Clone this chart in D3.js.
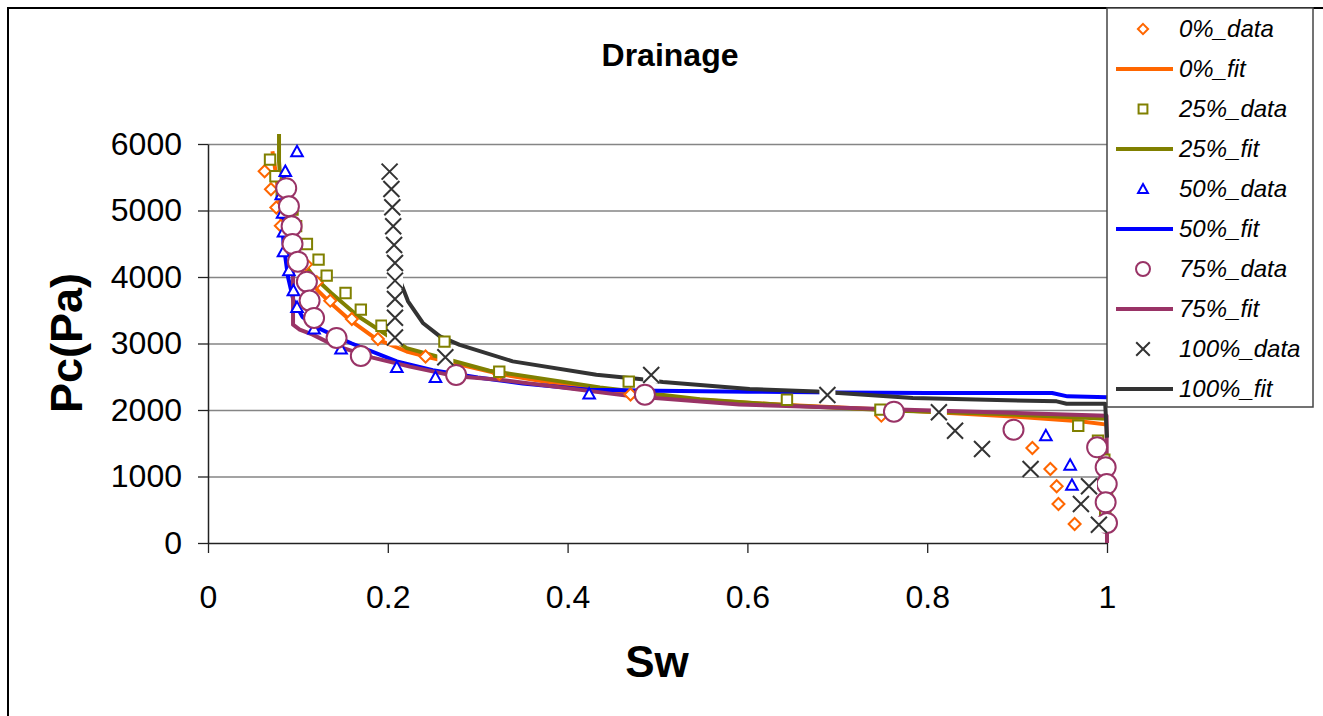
<!DOCTYPE html>
<html>
<head>
<meta charset="utf-8">
<script src="https://cdn.jsdelivr.net/npm/d3@7"></script>
<style>
  body { margin: 0; background: #fff; }
  svg { display: block; font-family: "Liberation Sans", Arial, sans-serif; }
</style>
</head>
<body>
<svg id="chart"></svg>
<script>
// Measured points (Sw, Pc in Pa)
const data0 = [[0.063,5590],[0.070,5320],[0.076,5045],[0.081,4770],[0.095,4490],[0.109,4190],[0.121,3921],[0.136,3644],[0.160,3369],[0.189,3068],[0.242,2805],[0.324,2542],[0.470,2233],[0.749,1915],[0.917,1429],[0.937,1113],[0.944,853],[0.946,587],[0.964,286]];
const data25 = [[0.069,5765],[0.075,5515],[0.082,5265],[0.094,5015],[0.098,4765],[0.110,4497],[0.123,4261],[0.132,4020],[0.153,3760],[0.170,3509],[0.193,3268],[0.263,3028],[0.324,2576],[0.468,2426],[0.644,2155],[0.748,2005],[0.968,1764],[0.990,1539],[0.997,1253],[0.999,1000],[1.0,750],[0.998,500]];
const data50 = [[0.099,5885],[0.086,5590],[0.0815,5240],[0.083,4960],[0.084,4680],[0.084,4381],[0.090,4095],[0.095,3795],[0.099,3545],[0.118,3219],[0.148,2918],[0.210,2642],[0.253,2492],[0.424,2241],[0.932,1614],[0.959,1173],[0.961,872]];
const data75 = [[0.087,5335],[0.090,5064],[0.093,4763],[0.094,4497],[0.100,4231],[0.110,3930],[0.113,3645],[0.118,3384],[0.143,3083],[0.170,2812],[0.276,2527],[0.486,2230],[0.763,1975],[0.896,1704],[0.989,1439],[0.9985,1139],[0.9997,887],[0.9985,612],[1.0,301]];
const data100 = [[0.202,5585],[0.204,5324],[0.205,5049],[0.206,4763],[0.207,4482],[0.208,4211],[0.208,3945],[0.208,3670],[0.208,3388],[0.208,3091],[0.264,2793],[0.493,2527],[0.689,2226],[0.813,1966],[0.831,1689],[0.861,1414],[0.915,1113],[0.980,853],[0.971,587],[0.991,275]];

// Fitted curves
const fit0 = [[0.0717,5890],[0.075,5600],[0.0785,5240],[0.082,4830],[0.088,4490],[0.097,4250],[0.108,4030],[0.122,3800],[0.137,3600],[0.158,3350],[0.187,3070],[0.221,2880],[0.247,2790],[0.325,2540],[0.436,2290],[0.55,2150],[0.65,2070],[0.78,1990],[0.9,1900],[0.97,1830],[1.0,1780]];
const fit25 = [[0.079,6150],[0.079,5740],[0.0817,5240],[0.0842,4940],[0.091,4560],[0.104,4250],[0.118,4000],[0.137,3760],[0.167,3410],[0.193,3180],[0.221,2930],[0.313,2590],[0.436,2340],[0.547,2160],[0.658,2060],[0.769,1990],[0.881,1940],[1.0,1870]];
const fit50 = [[0.085,5600],[0.082,5000],[0.084,4500],[0.089,4000],[0.095,3650],[0.105,3400],[0.12,3250],[0.14,3120],[0.16,3000],[0.21,2730],[0.25,2600],[0.3,2490],[0.35,2400],[0.424,2305],[0.5,2290],[0.6,2275],[0.7,2262],[0.8,2256],[0.939,2256],[0.956,2205],[1.0,2190]];
const fit75 = [[0.088,5400],[0.091,4800],[0.093,4300],[0.0946,4010],[0.0946,3283],[0.102,3210],[0.1165,3133],[0.1387,2983],[0.183,2788],[0.2245,2652],[0.276,2506],[0.3245,2456],[0.472,2205],[0.591,2081],[0.777,2005],[0.9995,1915],[1.0,0]];
const fit100 = [[0.212,4000],[0.2225,3634],[0.239,3309],[0.258,3107],[0.28,2980],[0.339,2731],[0.432,2531],[0.48,2467],[0.506,2421],[0.6025,2316],[0.677,2280],[0.784,2181],[0.944,2130],[0.955,2095],[0.998,2095],[1.0,1584]];

const seriesNames = ["0%", "25%", "50%", "75%", "100%"];
const xTicks = [0, 0.2, 0.4, 0.6, 0.8, 1];
const xTickLabels = ["0", "0.2", "0.4", "0.6", "0.8", "1"];
const yTicks = [0, 1000, 2000, 3000, 4000, 5000, 6000];

const series = [
  { name: seriesNames[0], color: "#FF6600", shape: "diamond", data: data0, fit: fit0 },
  { name: seriesNames[1], color: "#808000", shape: "square", data: data25, fit: fit25 },
  { name: seriesNames[2], color: "#0000FF", shape: "triangle", data: data50, fit: fit50 },
  { name: seriesNames[3], color: "#993366", shape: "circle", data: data75, fit: fit75 },
  { name: seriesNames[4], color: "#333333", shape: "x", data: data100, fit: fit100 }
];

const width = 1323;
const height = 716;
const svg = d3.select("#chart").attr("width", width).attr("height", height);

// chart frame
svg.append("rect")
  .attr("x", 8).attr("y", 8)
  .attr("width", 1340).attr("height", 740)
  .attr("fill", "#fff").attr("stroke", "#000").attr("stroke-width", 2);

const xScale = d3.scaleLinear().domain([0, 1]).range([208, 1107]);
const yScale = d3.scaleLinear().domain([0, 6000]).range([543, 144]);

// gridlines
svg.append("g")
  .attr("transform", "translate(208,0)")
  .call(d3.axisLeft(yScale).tickValues(yTicks.slice(1)).tickSize(-899).tickFormat(""))
  .call(g => g.select(".domain").remove())
  .call(g => g.selectAll("line").attr("stroke", "#858585").attr("stroke-width", 1.6));

// y axis
svg.append("g")
  .attr("transform", "translate(208,0)")
  .call(d3.axisLeft(yScale).tickValues(yTicks).tickSize(10).tickSizeOuter(0).tickFormat(d3.format("d")))
  .call(g => g.select(".domain").attr("stroke", "#222").attr("stroke-width", 1.5))
  .call(g => g.selectAll("line").attr("stroke", "#222").attr("stroke-width", 1.3))
  .call(g => g.selectAll("text").attr("x", -26).attr("fill", "#000")
    .style("font-size", "32px").style("font-family", "'Liberation Sans', Arial, sans-serif"));

// x axis
svg.append("g")
  .attr("transform", "translate(0,543)")
  .call(d3.axisBottom(xScale).tickValues(xTicks).tickSize(10).tickSizeOuter(0)
    .tickFormat((d, i) => xTickLabels[i]))
  .call(g => g.select(".domain").attr("stroke", "#222").attr("stroke-width", 1.5))
  .call(g => g.selectAll("line").attr("stroke", "#222").attr("stroke-width", 1.3))
  .call(g => g.selectAll("text").attr("y", 54).attr("dy", "0.35em").attr("fill", "#000")
    .style("font-size", "32px").style("font-family", "'Liberation Sans', Arial, sans-serif"));

// titles
svg.append("text")
  .attr("x", 670).attr("y", 55).attr("dy", "0.35em")
  .attr("text-anchor", "middle")
  .style("font-size", "32px").style("font-weight", "bold")
  .text("Drainage");

svg.append("text")
  .attr("transform", "translate(66,343) rotate(-90)")
  .attr("dy", "0.35em")
  .attr("text-anchor", "middle")
  .style("font-size", "45px").style("font-weight", "bold")
  .text("Pc(Pa)");

svg.append("text")
  .attr("x", 657).attr("y", 662).attr("dy", "0.35em")
  .attr("text-anchor", "middle")
  .style("font-size", "44px").style("font-weight", "bold")
  .text("Sw");

function markerPath(shape, k) {
  if (shape === "diamond") { const s = 6 * k; return `M0,${-s}L${s},0L0,${s}L${-s},0Z`; }
  if (shape === "square") { const s = 5.2 * k; return `M${-s},${-s}H${s}V${s}H${-s}Z`; }
  if (shape === "triangle") { const s = 5.8 * k; return `M0,${-s}L${s},${s * 0.8}L${-s},${s * 0.8}Z`; }
  if (shape === "circle") { const s = 10 * k; return `M${s},0A${s},${s} 0 1,1 ${-s},0A${s},${s} 0 1,1 ${s},0Z`; }
  const s = 8 * k;
  return `M${-s},${-s}L${s},${s}M${s},${-s}L${-s},${s}`;
}

const line = d3.line()
  .x(d => xScale(d[0]))
  .y(d => yScale(d[1]));

// fitted lines first
series.forEach(s => {
  svg.append("path")
    .datum(s.fit)
    .attr("d", line)
    .attr("fill", "none")
    .attr("stroke", s.color)
    .attr("stroke-width", 4)
    .attr("stroke-linejoin", "round");
});

// markers on top
series.forEach(s => {
  const g = svg.append("g");
  const pts = g.selectAll("g").data(s.data).enter().append("g")
    .attr("transform", d => `translate(${xScale(d[0])},${yScale(d[1])})`);
  if (s.shape === "x") {
    pts.append("rect").attr("x", -8).attr("y", -8).attr("width", 16).attr("height", 16).attr("fill", "#fff");
  }
  pts.append("path")
    .attr("d", markerPath(s.shape, 1))
    .attr("fill", s.shape === "x" ? "none" : "#fff")
    .attr("stroke", s.color)
    .attr("stroke-width", 2);
});

// legend
const legend = svg.append("g");
legend.append("rect")
  .attr("x", 1107).attr("y", 8).attr("width", 206).attr("height", 399)
  .attr("fill", "#fff").attr("stroke", "#444").attr("stroke-width", 1.5);

series.forEach((s, i) => {
  const yData = 29 + 80 * i;
  const yFit = yData + 40;
  legend.append("path")
    .attr("transform", `translate(1143,${yData})`)
    .attr("d", markerPath(s.shape, s.shape === "circle" ? 0.7 : 0.85))
    .attr("fill", s.shape === "x" ? "none" : "#fff")
    .attr("stroke", s.color).attr("stroke-width", 2);
  legend.append("text")
    .attr("x", 1179).attr("y", yData).attr("dy", "0.35em")
    .style("font-size", "24px").style("font-style", "italic")
    .text(s.name + "_data");
  legend.append("line")
    .attr("x1", 1116).attr("x2", 1173).attr("y1", yFit).attr("y2", yFit)
    .attr("stroke", s.color).attr("stroke-width", 4);
  legend.append("text")
    .attr("x", 1179).attr("y", yFit).attr("dy", "0.35em")
    .style("font-size", "24px").style("font-style", "italic")
    .text(s.name + "_fit");
});
</script>
</body>
</html>
